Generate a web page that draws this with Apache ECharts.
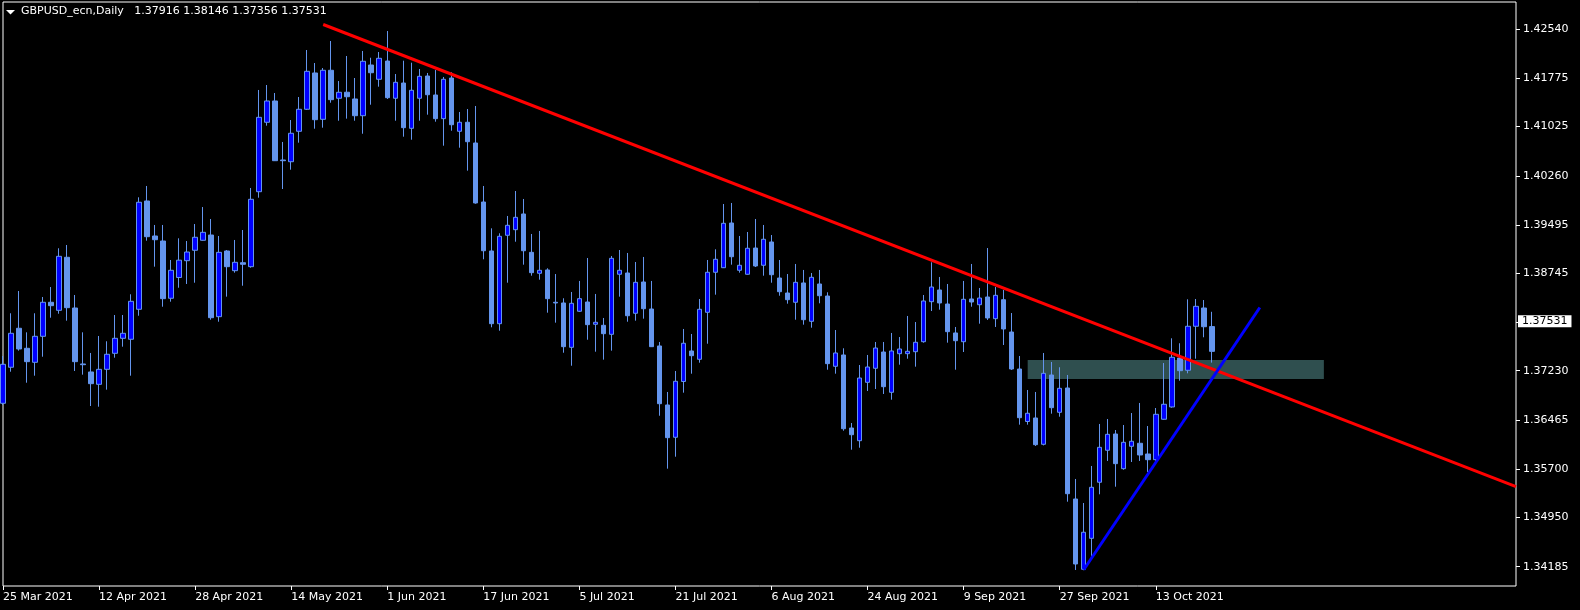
<!DOCTYPE html>
<html><head><meta charset="utf-8">
<script src="https://cdn.jsdelivr.net/npm/echarts@6/dist/echarts.min.js"></script>
<style>html,body{margin:0;padding:0;background:#000;}#c{width:1580px;height:610px;}</style>
</head><body><div id="c"></div>
<script>
const headerText = 'GBPUSD_ecn,Daily   1.37916 1.38146 1.37356 1.37531';
const startDate = '2021-03-25';
const totalSlots = 190;
const labelEvery = 12;
const yTickLabels = ['1.34185','1.34950','1.35700','1.36465','1.37230','1.37980','1.38745','1.39495','1.40260','1.41025','1.41775','1.42540'];
const lastPrice = 1.37531;

const opens = [1.36724,1.37284,1.37890,1.37579,1.37361,1.37765,1.38294,1.38169,1.38993,1.38205,1.37335,1.37211,1.37019,1.37252,1.37501,1.37734,1.37719,1.38185,1.39868,1.39324,1.39246,1.38356,1.38679,1.38940,1.39102,1.39257,1.39339,1.38070,1.39091,1.38785,1.38909,1.38847,1.40012,1.41091,1.41422,1.40505,1.40478,1.40951,1.41293,1.41857,1.41137,1.41899,1.41464,1.41558,1.41453,1.41193,1.41981,1.41759,1.42043,1.41464,1.41701,1.40997,1.41464,1.41810,1.41515,1.41147,1.41779,1.40951,1.41091,1.40769,1.39852,1.39091,1.37961,1.39335,1.39422,1.39666,1.39070,1.38744,1.38796,1.38294,1.38283,1.37594,1.38154,1.38298,1.37952,1.37936,1.37796,1.38729,1.38749,1.38123,1.38609,1.38189,1.37615,1.36698,1.36196,1.37063,1.37537,1.37408,1.38138,1.38760,1.38831,1.39526,1.38791,1.38729,1.39137,1.38869,1.39231,1.38671,1.38438,1.38294,1.38594,1.37998,1.38578,1.38391,1.37299,1.37475,1.36340,1.36143,1.37050,1.37268,1.37521,1.36895,1.37495,1.37495,1.37526,1.37681,1.38303,1.38485,1.38267,1.37817,1.37681,1.38345,1.38256,1.38376,1.38039,1.38334,1.37832,1.37257,1.36441,1.36496,1.36087,1.37164,1.36584,1.36962,1.35237,1.34145,1.34626,1.35497,1.35994,1.36247,1.35708,1.36056,1.36103,1.35936,1.35848,1.36476,1.36667,1.37428,1.37237,1.37921,1.38205,1.37916];
const closes = [1.37330,1.37812,1.37568,1.37371,1.37765,1.38294,1.38241,1.39008,1.38210,1.37371,1.37324,1.37029,1.37252,1.37486,1.37734,1.37812,1.38309,1.39848,1.39313,1.39266,1.38350,1.38791,1.38948,1.39075,1.39304,1.39381,1.38054,1.39070,1.38847,1.38915,1.38884,1.39894,1.41168,1.41422,1.40494,1.40494,1.40920,1.41293,1.41883,1.41131,1.41899,1.41442,1.41557,1.41488,1.41193,1.42039,1.41861,1.42085,1.41473,1.41712,1.41007,1.41588,1.41805,1.41519,1.41147,1.41759,1.41053,1.41091,1.40789,1.39837,1.39095,1.37961,1.39319,1.39490,1.39614,1.39095,1.38754,1.38791,1.38350,1.38283,1.37604,1.38278,1.38350,1.37946,1.37983,1.37806,1.38977,1.38791,1.38085,1.38604,1.38194,1.37604,1.36718,1.36190,1.37066,1.37657,1.37464,1.38185,1.38760,1.38962,1.39521,1.39002,1.38869,1.39133,1.38858,1.39273,1.38722,1.38458,1.38334,1.38604,1.38023,1.38682,1.38396,1.37340,1.37506,1.36329,1.36236,1.37117,1.37288,1.37583,1.36982,1.37537,1.37568,1.37532,1.37672,1.38314,1.38531,1.38283,1.37837,1.37697,1.38340,1.38298,1.38360,1.38050,1.38402,1.37879,1.37257,1.36500,1.36569,1.36081,1.37190,1.36656,1.36957,1.35319,1.34227,1.34720,1.35419,1.36040,1.36242,1.35786,1.36118,1.36134,1.35921,1.35848,1.36553,1.36709,1.37439,1.37231,1.37921,1.38231,1.37914,1.37531];
const lows = [1.36698,1.37215,1.37542,1.37044,1.37153,1.37448,1.38054,1.38116,1.38008,1.37226,1.37169,1.36682,1.36671,1.36936,1.37433,1.37604,1.37153,1.38085,1.39251,1.38847,1.38225,1.38303,1.38520,1.38578,1.38598,1.39251,1.38023,1.37992,1.38381,1.38754,1.38551,1.38831,1.39919,1.41038,1.40489,1.40054,1.40354,1.40774,1.41282,1.40991,1.41007,1.41395,1.41115,1.41147,1.41115,1.40913,1.41364,1.41644,1.41453,1.41115,1.40867,1.40820,1.41115,1.41209,1.41100,1.40727,1.40960,1.40696,1.40339,1.39826,1.38962,1.37905,1.37852,1.38598,1.39235,1.38878,1.38707,1.38645,1.38132,1.37977,1.37510,1.37308,1.38143,1.37712,1.37526,1.37402,1.37542,1.38381,1.37992,1.38008,1.38039,1.37599,1.36531,1.35708,1.35894,1.36889,1.37184,1.37355,1.37650,1.38412,1.38826,1.38878,1.38754,1.38722,1.38842,1.38707,1.38598,1.38396,1.38272,1.38023,1.37946,1.37899,1.38278,1.37246,1.37184,1.36298,1.36003,1.36034,1.36915,1.36946,1.36869,1.36780,1.37324,1.37417,1.37293,1.37666,1.38158,1.38179,1.37666,1.37246,1.37521,1.38225,1.37961,1.38019,1.37910,1.37630,1.37242,1.36392,1.36392,1.36061,1.36070,1.36563,1.36516,1.35195,1.34134,1.34130,1.34351,1.35310,1.35828,1.35428,1.35692,1.35812,1.35828,1.35657,1.35823,1.36469,1.36656,1.37075,1.37190,1.37417,1.37750,1.37356];
const highs = [1.37459,1.38123,1.38469,1.37827,1.38123,1.38376,1.38531,1.39133,1.39184,1.38407,1.37827,1.37506,1.37770,1.37688,1.38096,1.38096,1.38418,1.39925,1.40101,1.39495,1.39495,1.38951,1.39288,1.39246,1.39510,1.39774,1.39588,1.39324,1.39106,1.39262,1.39417,1.40070,1.41593,1.41670,1.41546,1.40785,1.41126,1.41484,1.42214,1.42012,1.41934,1.42354,1.41732,1.42121,1.41779,1.42199,1.42094,1.42183,1.42509,1.41841,1.42048,1.42017,1.41919,1.41857,1.41903,1.41795,1.41868,1.41251,1.41297,1.41344,1.40101,1.39443,1.39366,1.39635,1.40023,1.39899,1.39355,1.39402,1.38822,1.38733,1.38356,1.38454,1.38625,1.38982,1.38423,1.38050,1.39013,1.39106,1.39060,1.38920,1.38998,1.38625,1.37677,1.36900,1.37226,1.37879,1.37801,1.38345,1.38951,1.39117,1.39821,1.39837,1.39324,1.39386,1.39588,1.39495,1.39339,1.38951,1.38733,1.38889,1.38796,1.38749,1.38796,1.38449,1.37863,1.37579,1.36418,1.37319,1.37475,1.37677,1.37677,1.37817,1.37754,1.38081,1.37987,1.38407,1.38915,1.38687,1.38578,1.37910,1.38625,1.38889,1.38516,1.39137,1.38531,1.38485,1.38127,1.37459,1.36931,1.36900,1.37506,1.37366,1.37284,1.37164,1.35548,1.35175,1.35750,1.36403,1.36480,1.36309,1.36387,1.36573,1.36729,1.36371,1.36651,1.37350,1.37734,1.37657,1.38340,1.38345,1.38329,1.38146];

const redTrend = [[40, 1.42610], [189, 1.35428]];
const blueTrend = [[135, 1.34138], [157, 1.38213]];
const zoneBox = [[128, 1.37397], [165, 1.37101]];

const MONTHS = ['Jan','Feb','Mar','Apr','May','Jun','Jul','Aug','Sep','Oct','Nov','Dec'];
function weekdayCategories(start, n) {
  const out = [];
  const d = new Date(start + 'T00:00:00Z');
  while (out.length < n) {
    const w = d.getUTCDay();
    if (w !== 0 && w !== 6) out.push(d.getUTCDate() + ' ' + MONTHS[d.getUTCMonth()] + ' ' + d.getUTCFullYear());
    d.setUTCDate(d.getUTCDate() + 1);
  }
  return out;
}
const categories = weekdayCategories(startDate, totalSlots);
const candles = opens.map((o, i) => [o, closes[i], lows[i], highs[i]]);
const showIdx = (i) => i % labelEvery === 0 && i < opens.length;
const FONT = 'DejaVu Sans';

const chart = echarts.init(document.getElementById('c'));
chart.setOption({
  backgroundColor: '#000',
  animation: false,
  title: {
    text: headerText, left: 21, top: 6, padding: 0,
    textStyle: { color: '#fff', fontSize: 11, fontWeight: 'normal', fontFamily: FONT }
  },
  graphic: [{
    type: 'polygon', shape: { points: [[6, 10], [15, 10], [10.5, 14.5]] },
    style: { fill: '#fff' }
  }],
  grid: { left: 3, right: 64, top: 2, bottom: 24, show: true, borderColor: '#fff', borderWidth: 1, backgroundColor: '#000' },
  xAxis: {
    type: 'category', data: categories, boundaryGap: false,
    axisLine: { show: false },
    axisTick: { show: true, interval: showIdx, length: 4, lineStyle: { color: '#fff' } },
    axisLabel: { interval: showIdx, color: '#fff', fontSize: 11, fontFamily: FONT, align: 'left', margin: 6 },
    splitLine: { show: false }
  },
  yAxis: {
    type: 'value', position: 'right', min: 1.33885, max: 1.42960, scale: true,
    axisLine: { show: false },
    axisTick: { show: true, length: 4, lineStyle: { color: '#fff' }, customValues: yTickLabels.map(Number) },
    axisLabel: { color: '#fff', fontSize: 11, fontFamily: FONT, margin: 7,
      customValues: yTickLabels.map(Number), formatter: (v) => v.toFixed(5) },
    splitLine: { show: false }
  },
  series: [
    {
      type: 'candlestick', data: candles, barWidth: 5,
      itemStyle: { color: '#0000FF', color0: '#6495ED', borderColor: '#6495ED', borderColor0: '#6495ED', borderWidth: 1 },
      markArea: {
        silent: true, itemStyle: { color: '#2F4F4F' },
        data: [[{ coord: zoneBox[0] }, { coord: zoneBox[1] }]]
      },
      markLine: {
        silent: true, symbol: 'none', animation: false,
        lineStyle: { color: 'rgba(0,0,0,0)', width: 0 },
        label: { show: true, position: 'end', distance: 2, formatter: lastPrice.toFixed(5),
          backgroundColor: '#fff', color: '#000', fontSize: 11, fontFamily: FONT, padding: [1, 4, 0, 4] },
        data: [{ yAxis: lastPrice }]
      }
    },
    { type: 'line', data: redTrend, showSymbol: false, symbol: 'none', silent: true,
      lineStyle: { color: '#FF0000', width: 3 } },
    { type: 'line', data: blueTrend, showSymbol: false, symbol: 'none', silent: true,
      lineStyle: { color: '#0000FF', width: 3 } }
  ]
});
</script></body></html>
